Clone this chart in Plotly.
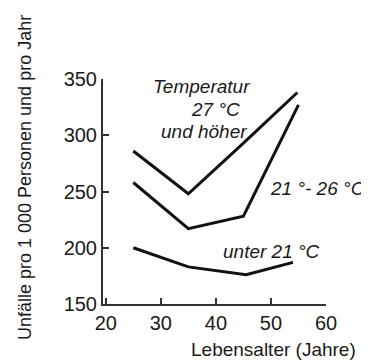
import plotly.graph_objects as go

age_hot = [25, 35, 45, 54.8]
acc_hot = [286, 248, 293, 338]
age_mid = [25, 35, 45, 55]
acc_mid = [258, 217, 228, 327]
age_low = [25, 35, 45.5, 54]
acc_low = [200, 183, 176, 187]

x_ticks = [20, 30, 40, 50, 60]
y_ticks = [150, 200, 250, 300, 350]

FONT = "Liberation Sans, Arial, sans-serif"
line = dict(color="#111111", width=3)

fig = go.Figure()
for xs, ys in [(age_hot, acc_hot), (age_mid, acc_mid), (age_low, acc_low)]:
    fig.add_trace(go.Scatter(x=xs, y=ys, mode="lines", line=line,
                             showlegend=False, hoverinfo="skip", cliponaxis=False))

ann_font = dict(family=FONT, size=19, color="#1a1a1a")
def ital(t):
    return "<i>" + t + "</i>"

fig.add_annotation(x=37.3, y=343, text=ital("Temperatur"), showarrow=False,
                   xanchor="center", font=ann_font)
fig.add_annotation(x=40.0, y=322.5, text=ital("27 °C"), showarrow=False,
                   xanchor="center", font=ann_font)
fig.add_annotation(x=37.8, y=303, text=ital("und höher"), showarrow=False,
                   xanchor="center", font=ann_font)
fig.add_annotation(x=49.5, y=253, text=ital("21 °- 26 °C"), showarrow=False,
                   xanchor="left", font=ann_font)
fig.add_annotation(x=40.9, y=196.5, text=ital("unter 21 °C"), showarrow=False,
                   xanchor="left", font=ann_font)

fig.add_annotation(xref="paper", yref="paper", x=-0.352, y=0.562,
                   text="Unfälle pro 1 000 Personen und pro Jahr", textangle=-90,
                   showarrow=False, xanchor="center", yanchor="middle",
                   font=dict(family=FONT, size=18, color="#1a1a1a"))
fig.add_annotation(xref="paper", yref="paper", x=0.763, y=-0.203,
                   text="Lebensalter (Jahre)", showarrow=False,
                   xanchor="center", yanchor="middle", font=ann_font)

axis_common = dict(showgrid=False, zeroline=False, showline=True, linecolor="#333333",
                   linewidth=2, ticks="inside", ticklen=6, tickwidth=2, tickcolor="#333333",
                   tickfont=dict(family=FONT, size=20, color="#1a1a1a"))

fig.update_xaxes(range=[19.5, 60], tickvals=x_ticks, ticktext=[str(v) for v in x_ticks],
                 **axis_common)
fig.update_yaxes(range=[150, 350], tickvals=y_ticks, ticktext=[str(v) for v in y_ticks],
                 **axis_common)

# page body has an 8px default margin, so the figure is shrunk by that amount
fig.update_layout(width=361, height=352, margin=dict(l=95, r=43, t=71, b=56),
                  plot_bgcolor="white", paper_bgcolor="white",
                  font=dict(family=FONT))
fig.write_html("out.html")
